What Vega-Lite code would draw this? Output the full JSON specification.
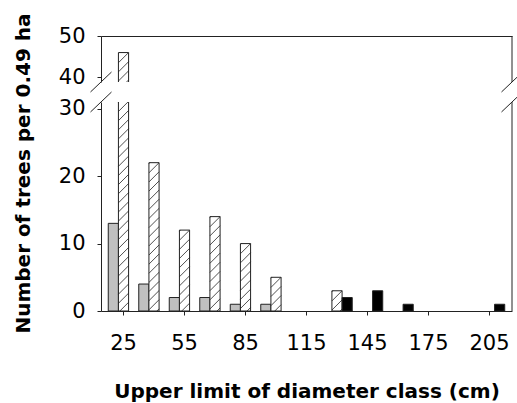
{
  "$schema": "https://vega.github.io/schema/vega-lite/v6.json",
  "background": "white",
  "padding": {"left": 12, "top": 12, "right": 5, "bottom": 5},
  "datasets": {
    "trees": [
      {"cls": 25, "series": "A", "n": 13},
      {"cls": 40, "series": "A", "n": 4},
      {"cls": 55, "series": "A", "n": 2},
      {"cls": 70, "series": "A", "n": 2},
      {"cls": 85, "series": "A", "n": 1},
      {"cls": 100, "series": "A", "n": 1},
      {"cls": 25, "series": "B", "n": 46},
      {"cls": 40, "series": "B", "n": 22},
      {"cls": 55, "series": "B", "n": 12},
      {"cls": 70, "series": "B", "n": 14},
      {"cls": 85, "series": "B", "n": 10},
      {"cls": 100, "series": "B", "n": 5},
      {"cls": 130, "series": "B", "n": 3},
      {"cls": 130, "series": "C", "n": 2},
      {"cls": 145, "series": "C", "n": 3},
      {"cls": 160, "series": "C", "n": 1},
      {"cls": 205, "series": "C", "n": 1}
    ],
    "anchor": [{"id": 1}]
  },
  "spacing": 20,
  "bounds": "flush",
  "config": {
    "view": {"stroke": null},
    "axis": {
      "grid": false,
      "domainColor": "#222",
      "domainWidth": 1,
      "tickColor": "#222",
      "tickWidth": 1,
      "tickSize": 4,
      "labelColor": "#000",
      "labelFont": "DejaVu Sans",
      "labelFontSize": 21,
      "titleColor": "#000",
      "titleFont": "DejaVu Sans",
      "titleFontSize": 20,
      "titleFontWeight": "bold"
    },
    "axisY": {"labelPadding": 12},
    "axisX": {"labelPadding": 17, "titlePadding": 28, "labelAngle": 0}
  },
  "vconcat": [
    {
      "width": 411,
      "height": 46,
      "data": {"name": "trees"},
      "layer": [
        {
          "mark": {"type": "bar", "clip": true, "stroke": "#222", "strokeWidth": 1},
          "encoding": {
            "x": {"field": "cls", "type": "ordinal",
                  "scale": {"domain": [25, 40, 55, 70, 85, 100, 115, 130, 145, 160, 175, 190, 205], "paddingInner": 0, "paddingOuter": 0.238},
                  "axis": {"orient": "top", "labels": false, "ticks": false, "title": null}},
            "xOffset": {"field": "series", "type": "nominal", "scale": {"domain": ["A", "B", "C"], "paddingInner": 0, "paddingOuter": 0}},
            "y": {"field": "n", "type": "quantitative", "scale": {"domain": [38.9, 50], "zero": false, "nice": false},
                  "axis": {"values": [40, 50], "title": null}},
            "color": {"field": "series", "type": "nominal", "scale": {"domain": ["A", "B", "C"], "range": ["#c0c0c0", "#ffffff", "#000000"]}, "legend": null}
          }
        },
        {
          "transform": [{"filter": "datum.series === 'B'"}],
          "mark": {"type": "point", "clip": true, "filled": false, "stroke": "#222", "strokeWidth": 0.8, "opacity": 1, "size": 103,
                   "shape": "M-1,0.2L-0.8,0M-1,2L1,0M-1,3.8L1,1.8M-1,5.6L1,3.6M-1,7.4L1,5.4M-1,9.2L1,7.2M-1,11L1,9M-1,12.8L1,10.8M-1,14.6L1,12.6M-1,16.4L1,14.4M-1,18.2L1,16.2M-1,20L1,18M-1,21.8L1,19.8M-1,23.6L1,21.6M-1,25.4L1,23.4M-1,27.2L1,25.2M-1,29L1,27M-1,30.8L1,28.8M-1,32.6L1,30.6M-1,34.4L1,32.4M-1,36.2L1,34.2M-1,38L1,36M-1,39.8L1,37.8M-1,41.6L1,39.6M-1,43.4L1,41.4M-1,45.2L1,43.2M-1,47L1,45M-1,48.8L1,46.8M-1,50.6L1,48.6M-1,52.4L1,50.4M-1,54.2L1,52.2M-1,56L1,54M-1,57.8L1,55.8M-1,59.6L1,57.6M-1,61.4L1,59.4M-1,63.2L1,61.2M-1,65L1,63M-1,66.8L1,64.8"},
          "encoding": {
            "x": {"field": "cls", "type": "ordinal",
                  "scale": {"domain": [25, 40, 55, 70, 85, 100, 115, 130, 145, 160, 175, 190, 205], "paddingInner": 0, "paddingOuter": 0.238},
                  "axis": {"orient": "top", "labels": false, "ticks": false, "title": null}},
            "xOffset": {"field": "series", "type": "nominal", "scale": {"domain": ["A", "B", "C"], "paddingInner": 0, "paddingOuter": 0}},
            "y": {"field": "n", "type": "quantitative", "scale": {"domain": [38.9, 50], "zero": false, "nice": false},
                  "axis": {"values": [40, 50], "title": null}}
          }
        },
        {
          "data": {"name": "anchor"},
          "mark": {"type": "rule", "stroke": "#222", "strokeWidth": 1},
          "encoding": {"x": {"value": "width"}, "y": {"value": 0}, "y2": {"value": "height"}}
        },
        {
          "data": {"name": "anchor"},
          "mark": {"type": "point", "shape": "M-1,0.95L1,-0.95", "size": 441, "filled": false, "stroke": "#222", "strokeWidth": 1, "opacity": 1},
          "encoding": {"x": {"value": 0}, "y": {"value": "height"}}
        },
        {
          "data": {"name": "anchor"},
          "mark": {"type": "point", "shape": "M-1,0.95L1,-0.95", "size": 441, "filled": false, "stroke": "#222", "strokeWidth": 1, "opacity": 1},
          "encoding": {"x": {"value": "width"}, "y": {"value": "height"}}
        }
      ]
    },
    {
      "width": 411,
      "height": 209,
      "data": {"name": "trees"},
      "layer": [
        {
          "mark": {"type": "bar", "clip": true, "stroke": "#222", "strokeWidth": 1},
          "encoding": {
            "x": {"field": "cls", "type": "ordinal",
                  "scale": {"domain": [25, 40, 55, 70, 85, 100, 115, 130, 145, 160, 175, 190, 205], "paddingInner": 0, "paddingOuter": 0.238},
                  "axis": {"values": [25, 55, 85, 115, 145, 175, 205], "title": "Upper limit of diameter class (cm)"}},
            "xOffset": {"field": "series", "type": "nominal", "scale": {"domain": ["A", "B", "C"], "paddingInner": 0, "paddingOuter": 0}},
            "y": {"field": "n", "type": "quantitative", "scale": {"domain": [0, 31], "nice": false},
                  "axis": {"values": [0, 10, 20, 30], "title": "Number of trees per 0.49 ha",
                           "titleX": -72, "titleY": 71, "titleAngle": 270, "titleAlign": "center", "titleBaseline": "alphabetic"}},
            "color": {"field": "series", "type": "nominal", "scale": {"domain": ["A", "B", "C"], "range": ["#c0c0c0", "#ffffff", "#000000"]}, "legend": null}
          }
        },
        {
          "transform": [{"filter": "datum.series === 'B'"}],
          "mark": {"type": "point", "clip": true, "filled": false, "stroke": "#222", "strokeWidth": 0.8, "opacity": 1, "size": 103,
                   "shape": "M-1,0.2L-0.8,0M-1,2L1,0M-1,3.8L1,1.8M-1,5.6L1,3.6M-1,7.4L1,5.4M-1,9.2L1,7.2M-1,11L1,9M-1,12.8L1,10.8M-1,14.6L1,12.6M-1,16.4L1,14.4M-1,18.2L1,16.2M-1,20L1,18M-1,21.8L1,19.8M-1,23.6L1,21.6M-1,25.4L1,23.4M-1,27.2L1,25.2M-1,29L1,27M-1,30.8L1,28.8M-1,32.6L1,30.6M-1,34.4L1,32.4M-1,36.2L1,34.2M-1,38L1,36M-1,39.8L1,37.8M-1,41.6L1,39.6M-1,43.4L1,41.4M-1,45.2L1,43.2M-1,47L1,45M-1,48.8L1,46.8M-1,50.6L1,48.6M-1,52.4L1,50.4M-1,54.2L1,52.2M-1,56L1,54M-1,57.8L1,55.8M-1,59.6L1,57.6M-1,61.4L1,59.4M-1,63.2L1,61.2M-1,65L1,63M-1,66.8L1,64.8"},
          "encoding": {
            "x": {"field": "cls", "type": "ordinal",
                  "scale": {"domain": [25, 40, 55, 70, 85, 100, 115, 130, 145, 160, 175, 190, 205], "paddingInner": 0, "paddingOuter": 0.238},
                  "axis": {"values": [25, 55, 85, 115, 145, 175, 205], "title": "Upper limit of diameter class (cm)"}},
            "xOffset": {"field": "series", "type": "nominal", "scale": {"domain": ["A", "B", "C"], "paddingInner": 0, "paddingOuter": 0}},
            "y": {"field": "n", "type": "quantitative", "scale": {"domain": [0, 31], "nice": false},
                  "axis": {"values": [0, 10, 20, 30], "title": "Number of trees per 0.49 ha",
                           "titleX": -72, "titleY": 71, "titleAngle": 270, "titleAlign": "center", "titleBaseline": "alphabetic"}}
          }
        },
        {
          "data": {"name": "anchor"},
          "mark": {"type": "rule", "stroke": "#222", "strokeWidth": 1},
          "encoding": {"x": {"value": "width"}, "y": {"value": 0}, "y2": {"value": "height"}}
        },
        {
          "data": {"name": "anchor"},
          "mark": {"type": "point", "shape": "M-1,0.95L1,-0.95", "size": 441, "filled": false, "stroke": "#222", "strokeWidth": 1, "opacity": 1},
          "encoding": {"x": {"value": 0}, "y": {"value": 0}}
        },
        {
          "data": {"name": "anchor"},
          "mark": {"type": "point", "shape": "M-1,0.95L1,-0.95", "size": 441, "filled": false, "stroke": "#222", "strokeWidth": 1, "opacity": 1},
          "encoding": {"x": {"value": "width"}, "y": {"value": 0}}
        }
      ]
    }
  ]
}
